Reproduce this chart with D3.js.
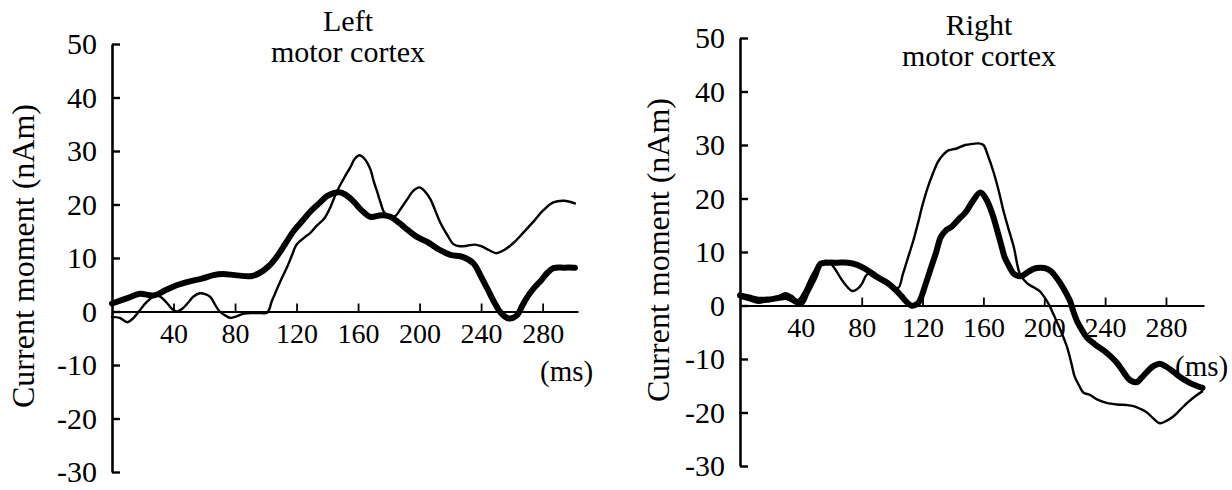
<!DOCTYPE html>
<html>
<head>
<meta charset="utf-8">
<script src="https://cdn.jsdelivr.net/npm/d3@7/dist/d3.min.js"></script>
<style>
  html, body { margin: 0; padding: 0; background: #fff; }
  svg { display: block; }
  svg text { font-family: "Liberation Serif", "Times New Roman", Times, serif !important; fill: #000; }
</style>
</head>
<body>
<svg id="chart" width="1232" height="490"></svg>
<script>
// Source-current time courses, [time (ms), moment (nAm)]
const leftThick = [[0,1.5],[10,2.5],[18,3.3],[27,3.0],[35,4.0],[42,4.9],[50,5.6],[59,6.2],[66,6.8],[72,7.0],[80,6.8],[90,6.6],[96,7.2],[102,8.5],[107,10.2],[113,12.8],[118,15],[124,17],[129,18.7],[135,20.3],[140,21.6],[148,22.3],[152,21.8],[157,20.6],[162,19],[168,17.7],[175,18],[181,17.7],[187,16.5],[192,15.3],[198,14],[205,13],[213,11.5],[220,10.6],[228,10.2],[235,9],[240,6.5],[244,4.3],[249,1.5],[253,-0.3],[258,-1.3],[263,-0.8],[267,1.2],[270,2.7],[275,4.6],[279,5.8],[283,7.2],[287,8.1],[294,8.2],[301,8.2]];
const leftThin = [[0,-1],[5,-1.2],[10,-2],[14,-1.2],[18,0.2],[22,1.6],[27,2.8],[30,3],[33,2.4],[36,1.5],[39,0.5],[42,0],[46,0.6],[49,1.5],[53,2.8],[57,3.4],[61,3.2],[64,2.7],[67,1.3],[70,0],[74,-0.8],[77,-1.2],[81,-0.9],[86,-0.4],[92,-0.3],[97,-0.3],[101,-0.2],[104,2],[107,4],[110,6],[114,8.4],[117,10.5],[120,12.5],[125,13.8],[129,14.7],[133,16],[138,17.4],[142,19.5],[146,22.3],[151,25],[155,27],[158,28.6],[161,29.2],[164,28.6],[168,26.6],[170,24.5],[172.5,22.3],[175,20],[177,18.5],[181,17.6],[184,17.8],[188,19.3],[192,21],[196,22.6],[200,23.2],[203,22.6],[207,21],[210,19],[213.5,16.6],[218,14.3],[222,12.6],[226,12.2],[231,12.3],[236,12.5],[240,12.2],[245,11.5],[250,10.9],[255,11.5],[261,12.8],[267,14.6],[274,16.8],[280,18.8],[287,20.4],[294,20.7],[301,20.2]];
const rightThick = [[0,1.9],[6,1.5],[12,1.1],[18,1.1],[25,1.4],[30,1.6],[35,1.0],[40,0.4],[44,2.5],[49,5.3],[53,7.8],[58,8],[64,8],[71,8],[77,7.6],[82,6.9],[87,6],[91,5.2],[97,4.2],[102,3],[106,1.8],[109,0.8],[112.5,0],[116,0.2],[118,0.8],[122,4],[125.6,7.1],[129,10],[132,12.8],[136,14.2],[139,14.7],[144,16.2],[148,17.3],[153,19.5],[158,21.1],[162,19.8],[166,17],[169,14.1],[172,11],[174,9],[177,7.3],[180,5.9],[185,5.5],[190,6.4],[195,7],[200,7],[204,6.5],[207,5.6],[210.5,4.2],[214,2.5],[217,0.8],[219,-1],[221.5,-2.9],[225,-4.7],[228,-6],[233,-7.2],[239,-8.4],[244,-9.6],[248,-10.8],[252,-12.4],[256.6,-14],[261,-14.3],[264,-13.5],[267.5,-12.4],[272,-11.3],[276,-10.9],[280,-11.4],[285,-12.4],[290,-13.5],[296,-14.5],[300,-15],[304,-15.4]];
const rightThin = [[0,1.5],[6,1],[12,0.5],[18,0.8],[22,1],[26,1.8],[30,2.3],[34,1.8],[38,1],[42,2.5],[47,5.5],[53,8],[58,8.3],[62,7],[66,5.2],[69,4],[74,2.7],[78,3.3],[80,4],[84,5.9],[88,5.3],[93,4.5],[98,3.8],[104,3.3],[107,5.8],[110.5,9],[114,12.2],[117,15.4],[120,18.8],[123.7,22.3],[127,24.8],[130,26.8],[133,28],[137,29],[142,29.3],[148,30],[153,30.2],[157,30.3],[160,30],[163,28],[166.6,25],[170,21.5],[173,17.9],[176,14.8],[180,10.9],[184,5.9],[188.6,4.2],[193,3.4],[197,2.7],[200,1.6],[203,0.2],[206,-1.6],[208,-2.9],[211,-4.8],[215,-7.8],[218,-11],[220,-13.3],[223,-15],[225.8,-16.3],[230,-16.7],[235,-17.6],[241,-18.2],[248,-18.5],[254,-18.6],[258.6,-18.8],[263,-19.3],[267.5,-20],[272,-21.2],[276,-22],[280,-21.6],[285,-20.7],[290,-19.3],[294,-18.2],[299,-17],[303.7,-16.1]];

const xTicks = [40, 80, 120, 160, 200, 240, 280];
const yTicks = [-30, -20, -10, 0, 10, 20, 30, 40, 50];
const panelTitles = [["Left", "motor cortex"], ["Right", "motor cortex"]];
const yTitle = "Current moment (nAm)";
const xUnit = "(ms)";

const SERIF = "'Liberation Serif', 'Times New Roman', Times, serif";

const svg = d3.select("#chart");
svg.append("rect").attr("width", 1232).attr("height", 490).attr("fill", "#fff");

const panels = [
  { thick: leftThick, thin: leftThin, title: panelTitles[0],
    xDomain: [0, 303], xRange: [112, 578], yRange: [472, 44],
    titleX: 348, titleY: [31, 62], yTitleX: 23, yTitleY: 256, unitX: 540, unitY: 381 },
  { thick: rightThick, thin: rightThin, title: panelTitles[1],
    xDomain: [0, 305], xRange: [740, 1204], yRange: [466, 38],
    titleX: 979, titleY: [35, 66], yTitleX: 658, yTitleY: 250, unitX: 1175, unitY: 376 }
];

panels.forEach(p => {
  const x = d3.scaleLinear().domain(p.xDomain).range(p.xRange);
  const y = d3.scaleLinear().domain([-30, 50]).range(p.yRange);
  const g = svg.append("g");

  // y axis: ticks point inward, labels on the left (plain hyphen for negatives)
  const yAxis = g.append("g")
    .attr("transform", `translate(${p.xRange[0]},0)`)
    .call(d3.axisLeft(y).tickValues(yTicks).tickSize(-8).tickSizeOuter(0).tickPadding(15)
      .tickFormat(d => String(d)));
  yAxis.attr("font-family", null).attr("font-size", null);
  yAxis.select(".domain").attr("stroke", "#000").attr("stroke-width", 2.6);
  yAxis.selectAll(".tick line").attr("stroke", "#000").attr("stroke-width", 2.4);
  yAxis.selectAll(".tick text").style("font-size", "30px").style("font-family", SERIF).attr("fill", "#000");

  // x axis along zero, ticks pointing up
  const xAxis = g.append("g")
    .attr("transform", `translate(0,${y(0)})`)
    .call(d3.axisBottom(x).tickValues(xTicks).tickSize(-8).tickSizeOuter(0).tickPadding(12)
      .tickFormat(d => String(d)));
  xAxis.attr("font-family", null).attr("font-size", null);
  xAxis.select(".domain").attr("stroke", "#000").attr("stroke-width", 2);
  xAxis.selectAll(".tick line").attr("stroke", "#000").attr("stroke-width", 1.8);
  xAxis.selectAll(".tick text").style("font-size", "28px").style("font-family", SERIF).attr("fill", "#000");

  const line = d3.line()
    .x(d => x(d[0]))
    .y(d => y(d[1]))
    .curve(d3.curveCatmullRom.alpha(0.5));

  g.append("path").datum(p.thin)
    .attr("d", line).attr("fill", "none").attr("stroke", "#000")
    .attr("stroke-width", 2.4).attr("stroke-linejoin", "round").attr("stroke-linecap", "round");
  g.append("path").datum(p.thick)
    .attr("d", line).attr("fill", "none").attr("stroke", "#000")
    .attr("stroke-width", 6).attr("stroke-linejoin", "round").attr("stroke-linecap", "round");

  // panel title
  g.append("text").attr("x", p.titleX).attr("y", p.titleY[0])
    .attr("text-anchor", "middle").style("font-size", "30px").style("font-family", SERIF).text(p.title[0]);
  g.append("text").attr("x", p.titleX).attr("y", p.titleY[1])
    .attr("text-anchor", "middle").style("font-size", "30px").style("font-family", SERIF).text(p.title[1]);

  // axis titles
  g.append("text")
    .attr("transform", `translate(${p.yTitleX},${p.yTitleY}) rotate(-90)`)
    .attr("text-anchor", "middle").attr("dy", "0.35em")
    .style("font-size", "32px").style("font-family", SERIF).text(yTitle);
  g.append("text").attr("x", p.unitX).attr("y", p.unitY)
    .style("font-size", "29px").style("font-family", SERIF).text(xUnit);
});
</script>
</body>
</html>
